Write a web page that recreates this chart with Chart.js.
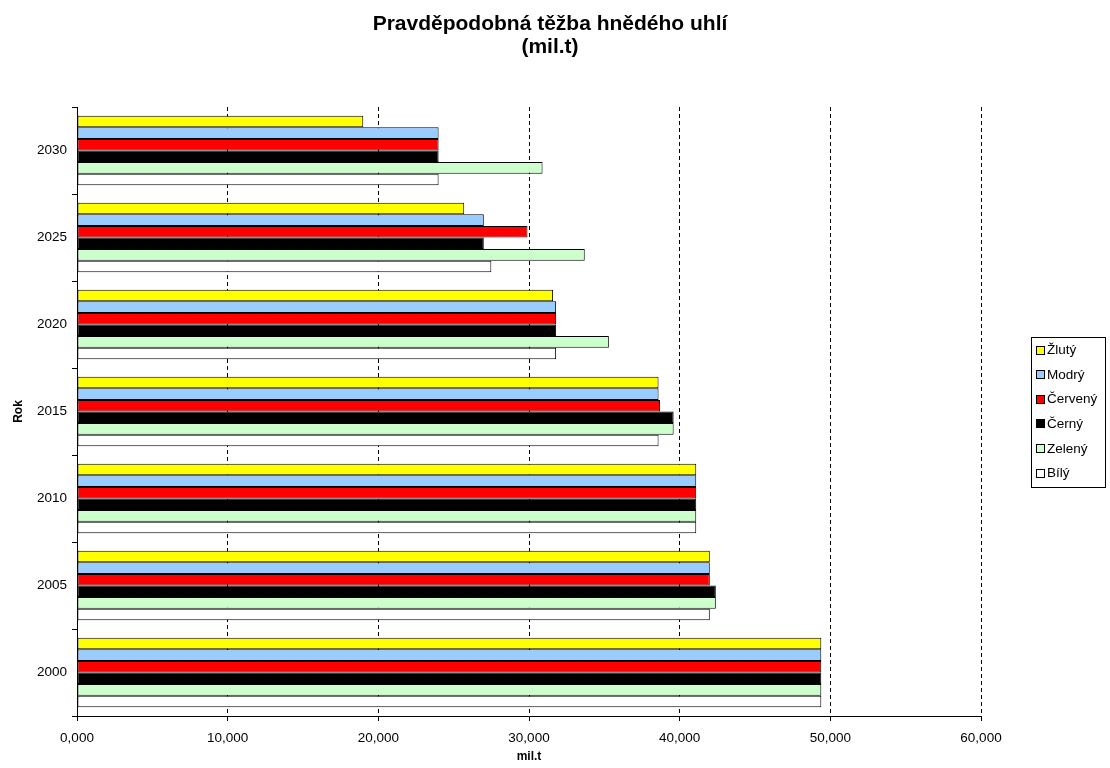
<!DOCTYPE html>
<html>
<head>
<meta charset="utf-8">
<title>Pravděpodobná těžba hnědého uhlí</title>
<script src="https://cdn.jsdelivr.net/npm/chart.js@4/dist/chart.umd.min.js"></script>
<style>
    html, body { margin: 0; padding: 0; background: #fff; }
    #wrap { width: 1110px; height: 768px; position: relative; }
</style>
</head>
<body>
<div id="wrap"><canvas id="coalChart"></canvas></div>
<script>
// Years (bottom to top in the picture)
const years = ['2000', '2005', '2010', '2015', '2020', '2025', '2030'];

// Scenario values in mil.t, same order as years
const zlutyValues   = [49.4, 42.0, 41.1, 38.6, 31.6, 25.7, 19.0];
const modryValues   = [49.4, 42.0, 41.1, 38.6, 31.8, 27.0, 24.0];
const cervenyValues = [49.4, 42.0, 41.1, 38.7, 31.8, 29.9, 24.0];
const cernyValues   = [49.4, 42.4, 41.1, 39.6, 31.8, 27.0, 24.0];
const zelenyValues  = [49.4, 42.4, 41.1, 39.6, 35.3, 33.7, 30.9];
const bilyValues    = [49.4, 42.0, 41.1, 38.6, 31.8, 27.5, 24.0];

const seriesNames  = ['Žlutý', 'Modrý', 'Červený', 'Černý', 'Zelený', 'Bílý'];
const seriesColors = ['#FFFF00', '#99CCFF', '#FF0000', '#000000', '#CCFFCC', '#FFFFFF'];
const seriesValues = [zlutyValues, modryValues, cervenyValues, cernyValues, zelenyValues, bilyValues];

// x axis ticks
const xMin = 0;
const xMax = 60;
const xStep = 10;

const titleLines = ['Pravděpodobná těžba hnědého uhlí', '(mil.t)'];
const fontFamily = '"Liberation Sans", Arial, Helvetica, sans-serif';

// Czech number format: 10 -> "10,000"
function formatTick(value) {
    return Number(value).toFixed(3).replace('.', ',');
}

// Title and boxed legend are drawn by hand to match the spreadsheet look
const decorPlugin = {
    id: 'decor',
    afterDraw(chart) {
        const ctx = chart.ctx;
        ctx.save();

        // title
        ctx.fillStyle = '#000';
        ctx.font = 'bold 21px ' + fontFamily;
        ctx.textAlign = 'center';
        ctx.textBaseline = 'alphabetic';
        ctx.fillText(titleLines[0], 550, 30);
        ctx.fillText(titleLines[1], 550, 53);

        // legend frame
        const boxLeft = 1031, boxTop = 337, boxW = 74, boxH = 150;
        ctx.strokeStyle = '#000';
        ctx.lineWidth = 1;
        ctx.strokeRect(boxLeft + 0.5, boxTop + 0.5, boxW, boxH);

        // legend items
        ctx.font = '13.5px ' + fontFamily;
        ctx.textAlign = 'left';
        ctx.textBaseline = 'middle';
        chart.data.datasets.forEach((ds, i) => {
            const cy = 349.5 + i * 24.6;
            const sy = Math.round(cy - 4) + 0.5;
            ctx.fillStyle = ds.backgroundColor;
            ctx.fillRect(1036.5, sy, 8, 8);
            ctx.strokeRect(1036.5, sy, 8, 8);
            ctx.fillStyle = '#000';
            ctx.fillText(ds.label, 1047, cy + 1);
        });

        ctx.restore();
    }
};

function buildDatasets() {
    return seriesNames.map((name, i) => ({
        label: name,
        // category scale draws first label at the top, so flip to get 2030 on top
        data: seriesValues[i].slice().reverse(),
        backgroundColor: seriesColors[i],
        borderColor: '#000000',
        borderWidth: 1,
        borderSkipped: false,
        categoryPercentage: 0.8,
        barPercentage: 1.0
    }));
}

function initializeChart() {
    const ctx = document.getElementById('coalChart').getContext('2d');

    Chart.defaults.font.family = fontFamily;
    Chart.defaults.color = '#000';

    new Chart(ctx, {
        type: 'bar',
        data: {
            labels: years.slice().reverse(),
            datasets: buildDatasets()
        },
        options: {
            indexAxis: 'y',
            responsive: true,
            maintainAspectRatio: false,
            animation: false,
            layout: {
                padding: { top: 107, right: 129, bottom: 0, left: 0 }
            },
            plugins: {
                legend: { display: false },
                title: { display: false },
                tooltip: { enabled: false }
            },
            scales: {
                x: {
                    min: xMin,
                    max: xMax,
                    afterFit(scale) { scale.height = 52; },
                    ticks: {
                        stepSize: xStep,
                        padding: 9,
                        color: '#000',
                        font: { size: 13.5 },
                        callback: formatTick
                    },
                    grid: {
                        color: '#000',
                        lineWidth: 1,
                        tickLength: 5,
                        tickBorderDash: []
                    },
                    border: {
                        color: '#000',
                        width: 1,
                        dash: [4, 3]
                    },
                    title: {
                        display: true,
                        text: 'mil.t',
                        color: '#000',
                        font: { size: 12, weight: 'bold' },
                        padding: { top: 0, bottom: 4 }
                    }
                },
                y: {
                    afterFit(scale) { scale.width = 77; },
                    ticks: {
                        padding: 5,
                        color: '#000',
                        font: { size: 13.5 }
                    },
                    grid: {
                        offset: true,
                        drawOnChartArea: false,
                        color: '#000',
                        tickLength: 5
                    },
                    border: {
                        color: '#000',
                        width: 1
                    },
                    title: {
                        display: true,
                        text: 'Rok',
                        color: '#000',
                        font: { size: 12, weight: 'bold' },
                        padding: { top: 11, bottom: 0 }
                    }
                }
            }
        },
        plugins: [decorPlugin]
    });
}

document.addEventListener('DOMContentLoaded', initializeChart);
</script>
</body>
</html>
